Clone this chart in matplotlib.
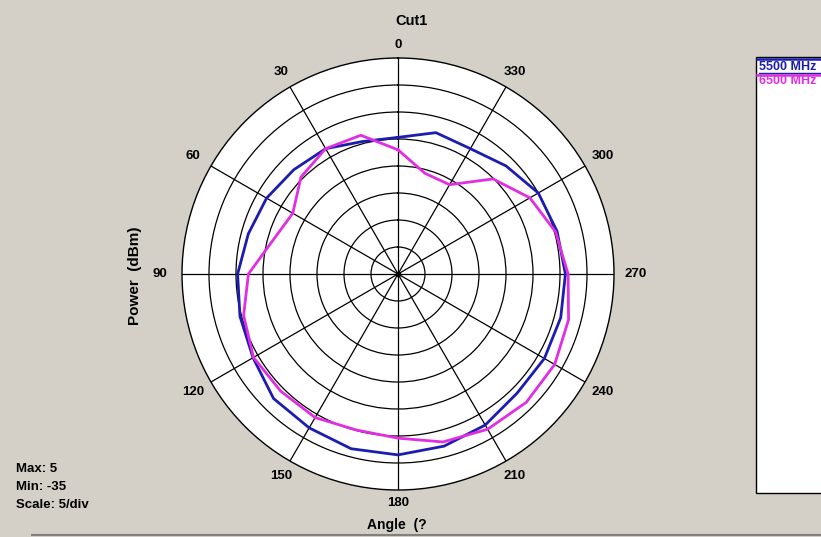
import matplotlib.pyplot as plt
import numpy as np
from matplotlib.lines import Line2D
from matplotlib.patches import Rectangle

plt.rcParams['font.family'] = ['Liberation Sans', 'DejaVu Sans']
plt.rcParams['font.weight'] = 'bold'

# cut angles (deg) and measured power (dBm) per frequency
angles = np.arange(0, 360, 15)
p5500 = [-9.7, -9.6, -8.2, -7.7, -6.9, -6.3, -5.3, -4.7, -4.0, -2.4, -2.1, -1.5,
         -1.5, -2.0, -2.7, -3.8, -3.7, -3.8, -4.0, -4.5, -5.0, -6.7, -8.2, -7.9]
p6500 = [-12.0, -8.4, -8.2, -9.6, -12.5, -11.0, -7.3, -5.4, -4.1, -4.3, -4.3, -5.1,
         -4.6, -2.8, -1.8, -1.4, -1.5, -2.3, -3.5, -4.8, -6.8, -10.1, -15.9, -15.7]
series = [('5500 MHz', p5500, '#1c1cb0'), ('6500 MHz', p6500, '#e22ee2')]

rmin, rmax, step = -35, 5, 5
tick_angles = np.arange(0, 360, 30)

W, H = 821, 537
bg = '#d4d0c8'
fig = plt.figure(figsize=(W / 100, H / 100), dpi=100, facecolor=bg)

cx, cy, rad = 398, 274, 216
ax = fig.add_axes([(cx - rad) / W, (H - cy - rad) / H, 2 * rad / W, 2 * rad / H],
                  projection='polar')
ax.set_facecolor('white')
ax.set_theta_zero_location('N')
ax.set_theta_direction(1)
ax.set_rlim(rmin, rmax)
ax.set_rticks(np.arange(rmin + step, rmax, step))
ax.set_yticklabels([])
ax.set_thetagrids(tick_angles, [''] * len(tick_angles))
ax.grid(True, color='black', linewidth=0.9)
ax.spines['polar'].set_color('black')
ax.spines['polar'].set_linewidth(1.0)

# angle labels just outside the rim, a little further out at the sides
for a in tick_angles:
    t = np.deg2rad(a)
    dist = 228.5 + 9.5 * abs(np.sin(t))
    ax.text(t, rmin + dist / rad * (rmax - rmin), str(a), ha='center', va='center',
            fontsize=9.5, clip_on=False)

for name, vals, col in series:
    th = np.deg2rad(np.append(angles, angles[0]))
    r = np.append(vals, vals[0])
    ax.plot(th, r, color=col, linewidth=2.0)
ax.plot([0], [rmin], marker='o', color='black', markersize=3)

fig.text(411 / W, 1 - 21 / H, 'Cut1', ha='center', va='center', fontsize=10.5)
fig.text(397 / W, 1 - 525 / H, 'Angle  (?', ha='center', va='center', fontsize=10)
fig.text(135 / W, 1 - 276 / H, 'Power  (dBm)', ha='center', va='center',
         rotation=90, fontsize=11)

info = ['Max: %d' % rmax, 'Min: %d' % rmin, 'Scale: %d/div' % step]
for i, s in enumerate(info):
    fig.text(16 / W, 1 - (469 + 18 * i) / H, s, ha='left', va='center', fontsize=9.5)

# legend panel on the right: colour bar above each name
fig.patches.append(Rectangle((755.5 / W, 1 - 493 / H), 80 / W, (493 - 56.5) / H,
                             transform=fig.transFigure, facecolor='white',
                             edgecolor='black', linewidth=1.0))
for (name, vals, col), y, ly in zip(series, [66.5, 81], [59, 74.5]):
    fig.lines.append(Line2D([757 / W, 1], [1 - ly / H] * 2, color=col,
                            linewidth=1.8, transform=fig.transFigure))
    fig.text(759 / W, 1 - y / H, name, ha='left', va='center', fontsize=9, color=col)
fig.lines.append(Line2D([759 / W, 1], [1 - 72.8 / H] * 2, color=series[0][2],
                        linewidth=1.0, transform=fig.transFigure))

fig.lines.append(Line2D([32 / W, 1], [1 - 534.5 / H] * 2, color='#808080',
                        linewidth=1.5, transform=fig.transFigure))

fig.savefig('out.png', dpi=100, facecolor=bg)
